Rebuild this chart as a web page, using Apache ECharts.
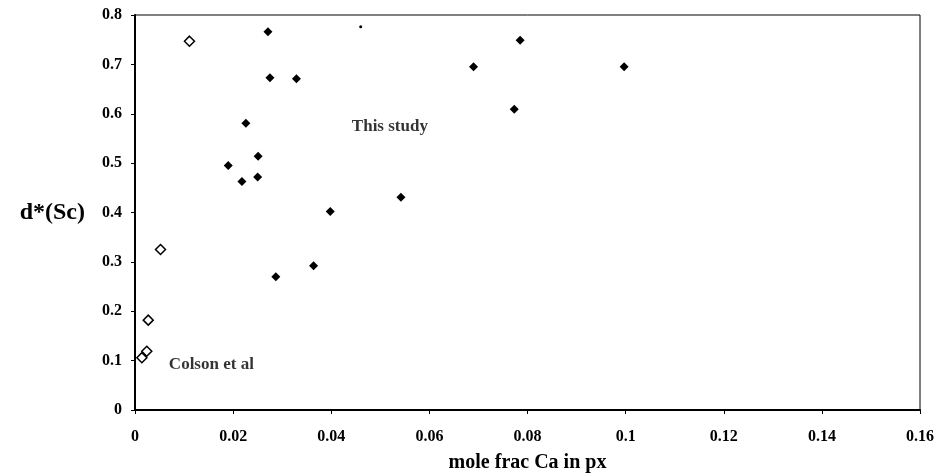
<!DOCTYPE html>
<html><head><meta charset="utf-8">
<script src="https://cdn.jsdelivr.net/npm/echarts@6/dist/echarts.min.js"></script>
<style>html,body{margin:0;padding:0;background:#fff}#c{width:937px;height:474px}</style>
</head><body><div id="c"></div>
<script>
const xTicks = [0, 0.02, 0.04, 0.06, 0.08, 0.1, 0.12, 0.14, 0.16];
const yTicks = [0, 0.1, 0.2, 0.3, 0.4, 0.5, 0.6, 0.7, 0.8];
const thisStudyX = [0.0271, 0.0275, 0.0329, 0.0226, 0.0190, 0.0251, 0.0218, 0.0250, 0.0398, 0.0542, 0.0785, 0.0690, 0.0997, 0.0773, 0.0287, 0.0364];
const thisStudyY = [0.766, 0.673, 0.671, 0.581, 0.495, 0.514, 0.463, 0.472, 0.402, 0.431, 0.749, 0.695, 0.695, 0.609, 0.270, 0.292];
const colsonX = [0.0111, 0.0052, 0.0027, 0.0024, 0.0014];
const colsonY = [0.747, 0.325, 0.182, 0.119, 0.106];
const strayX = [0.0460];
const strayY = [0.776];
const labelTexts = ['This study', 'Colson et al'];
const labelX = [0.0442, 0.0069];
const labelY = [0.573, 0.091];

const font = 'Liberation Serif, Times New Roman, serif';
const chart = echarts.init(document.getElementById('c'), null, {renderer: 'canvas'});
chart.setOption({
  animation: false,
  backgroundColor: '#fff',
  grid: {left: 135, right: 17, top: 15, bottom: 64, show: true, borderColor: '#000', borderWidth: 1,
    containLabel: false, outerBoundsMode: 'none'},
  xAxis: {
    type: 'value', min: xTicks[0], max: xTicks[xTicks.length - 1], interval: 0.02,
    name: 'mole frac Ca in px', nameLocation: 'middle', nameGap: 43,
    nameTextStyle: {fontFamily: font, fontWeight: 'bold', fontSize: 20, color: '#000'},
    axisLine: {lineStyle: {color: '#000', width: 2}},
    axisTick: {show: true, length: 4, lineStyle: {color: '#000'}},
    axisLabel: {fontFamily: font, fontWeight: 'bold', fontSize: 16, color: '#000', margin: 19,
      formatter: v => String(+v.toFixed(2))},
    splitLine: {show: false}
  },
  yAxis: {
    type: 'value', min: yTicks[0], max: yTicks[yTicks.length - 1], interval: 0.1,
    name: 'd*(Sc)', nameLocation: 'middle', nameGap: 50, nameRotate: 0,
    nameTextStyle: {fontFamily: font, fontWeight: 'bold', fontSize: 24, color: '#000'},
    axisLine: {lineStyle: {color: '#000', width: 2}},
    axisTick: {show: true, length: 4, lineStyle: {color: '#000'}},
    axisLabel: {fontFamily: font, fontWeight: 'bold', fontSize: 16, color: '#000', margin: 13,
      formatter: v => String(+v.toFixed(1))},
    splitLine: {show: false}
  },
  series: [
    {type: 'scatter', name: 'This study', symbol: 'diamond', symbolSize: 9,
      itemStyle: {color: '#000', opacity: 1},
      data: thisStudyX.map((x, i) => [x, thisStudyY[i]])},
    {type: 'scatter', name: 'Colson et al', symbol: 'diamond', symbolSize: 10,
      itemStyle: {color: '#fff', borderColor: '#000', borderWidth: 1.5, opacity: 1},
      data: colsonX.map((x, i) => [x, colsonY[i]])},
    {type: 'scatter', name: 'dot', symbol: 'circle', symbolSize: 3,
      itemStyle: {color: '#000', opacity: 1},
      data: strayX.map((x, i) => [x, strayY[i]])},
    {type: 'scatter', name: 'labels', symbolSize: 0, silent: true,
      label: {show: true, position: 'right', distance: 0, formatter: p => p.data[2],
        fontFamily: font, fontWeight: 'bold', fontSize: 17, color: '#000'},
      data: labelTexts.map((t, i) => [labelX[i], labelY[i], t])}
  ]
});
</script></body></html>
